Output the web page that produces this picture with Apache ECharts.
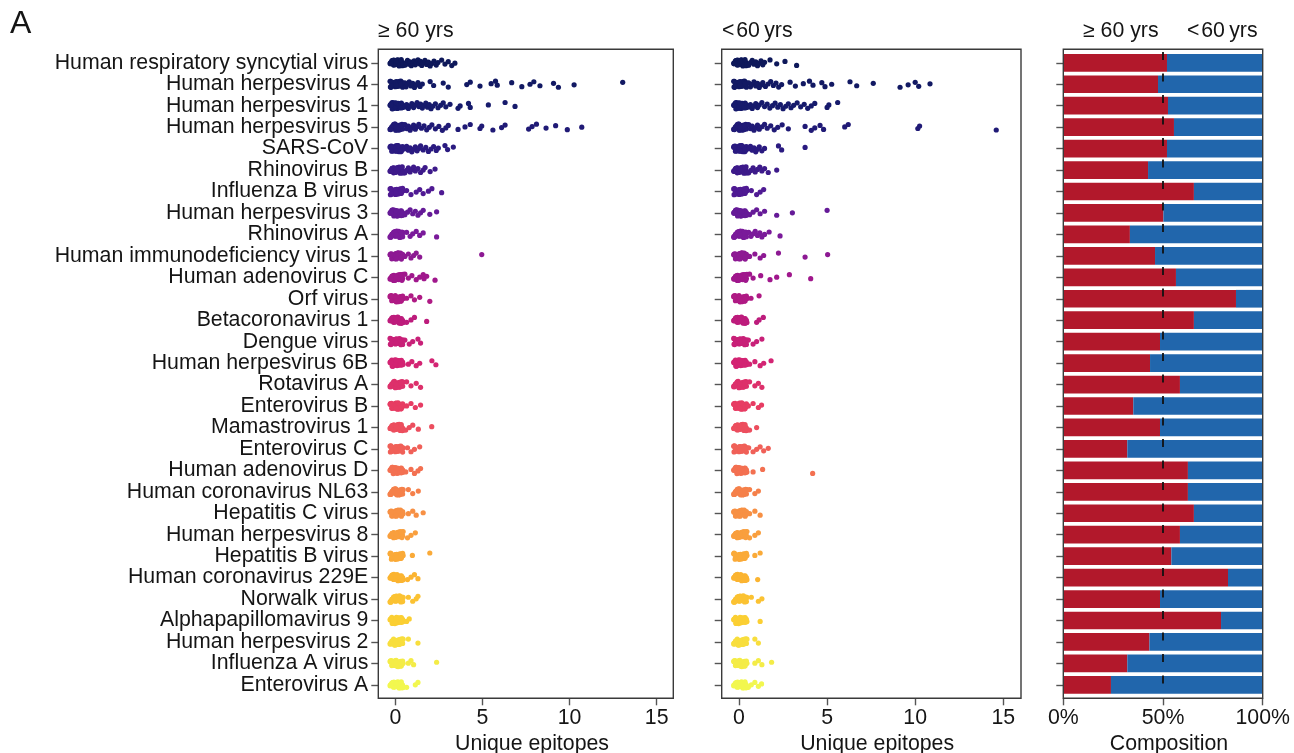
<!DOCTYPE html>
<html><head><meta charset="utf-8">
<script src="https://cdn.jsdelivr.net/npm/echarts@6/dist/echarts.min.js"></script>
<style>html,body{margin:0;padding:0;background:#fff}#c{width:1294px;height:753px}</style>
</head><body><div id="c"></div>
<script>
// ---------------- data ----------------
const viruses = ['Human respiratory syncytial virus','Human herpesvirus 4','Human herpesvirus 1','Human herpesvirus 5','SARS-CoV','Rhinovirus B','Influenza B virus','Human herpesvirus 3','Rhinovirus A','Human immunodeficiency virus 1','Human adenovirus C','Orf virus','Betacoronavirus 1','Dengue virus','Human herpesvirus 6B','Rotavirus A','Enterovirus B','Mamastrovirus 1','Enterovirus C','Human adenovirus D','Human coronavirus NL63','Hepatitis C virus','Human herpesvirus 8','Hepatitis B virus','Human coronavirus 229E','Norwalk virus','Alphapapillomavirus 9','Human herpesvirus 2','Influenza A virus','Enterovirus A'];

// dense cluster of (jittered) points near zero, shared by every row
const coreSpread = [-0.3,-0.2,-0.1,0,0.1,0.2,0.3,0.4,-0.25,-0.15,-0.05,0.05,0.15,0.25,0.35,0.45,-0.28,-0.12,0.02,0.12,0.22,0.32,-0.02,0.38,-0.22,-0.08,0.08,0.18,0.28,0.42,-0.18,0.0,0.16,0.34,-0.26,0.06];

// points beyond the dense cluster, >= 60 yrs
const olderExtra = [
 [0.55,0.62,0.7,0.78,0.85,0.92,1.0,1.08,1.15,1.22,1.3,1.38,1.45,1.52,1.6,1.7,1.8,1.9,2.0,2.1,2.22,2.35,2.45,2.66,2.85,3.04,3.24,3.42],
 [0.55,0.62,0.7,0.8,0.9,1.0,1.1,1.2,1.3,1.42,1.55,2.0,2.2,2.75,3.04,4.1,4.3,4.86,5.5,5.75,5.85,6.68,7.26,7.73,7.95,8.3,9.08,9.36,10.26,13.05],
 [0.55,0.65,0.75,0.85,0.95,1.05,1.15,1.25,1.35,1.45,1.55,1.65,1.75,1.85,1.95,2.05,2.15,2.3,2.45,2.6,2.75,2.9,3.14,3.6,3.72,4.2,4.3,5.34,6.3,6.87],
 [0.55,0.65,0.75,0.85,0.95,1.05,1.15,1.25,1.35,1.5,1.65,1.8,1.95,2.1,2.3,2.5,2.7,2.9,3.04,3.6,4.0,4.3,4.86,4.96,5.6,6.1,6.3,7.65,7.85,8.1,8.65,9.2,9.87,10.7],
 [0.55,0.65,0.75,0.85,0.95,1.05,1.15,1.25,1.35,1.45,1.6,1.75,1.9,2.05,2.2,2.35,2.47,2.85,3.0,3.33],
 [0.55,0.65,0.75,0.85,0.95,1.05,1.15,1.3,1.45,1.6,1.71,2.0,2.28],
 [0.65,0.9,1.2,1.4,1.6,1.9,2.1,2.66],
 [0.55,0.7,0.85,1.0,1.15,1.3,1.45,1.6,1.98,2.37],
 [0.65,0.85,1.0,1.2,1.4,1.6,2.37],
 [0.55,0.75,0.9,1.05,1.2,1.4,4.96],
 [0.55,0.75,0.95,1.2,1.4,1.6,1.65,1.8,2.28],
 [0.65,0.9,1.1,1.4,1.98],
 [0.65,0.9,1.1,1.8],
 [0.55,0.8,1.0,1.3,1.45],
 [0.75,0.95,1.2,1.4,2.1,2.33],
 [0.65,0.9,1.2,1.45],
 [0.65,0.9,1.15,1.45],
 [0.6,0.8,1.0,1.32,2.09],
 [0.7,0.9,1.1,1.4],
 [0.6,0.9,1.1,1.3,1.45],
 [0.75,1.0,1.32],
 [0.75,1.0,1.2,1.6],
 [0.7,0.9,1.15],
 [0.98,1.98],
 [0.7,0.9,1.1,1.3],
 [0.75,1.0,1.2,1.3],
 [0.65,0.8],
 [0.75,1.3],
 [0.75,0.9,1.05,2.37],
 [0.65,1.15,1.3]
];

// points beyond the dense cluster, < 60 yrs
const youngerExtra = [
 [0.55,0.65,0.75,0.85,0.95,1.05,1.15,1.25,1.35,1.45,1.76,2.14,2.61,3.27],
 [0.55,0.65,0.75,0.85,0.95,1.05,1.15,1.25,1.35,1.5,1.65,1.8,1.95,2.1,2.25,2.42,2.9,3.2,3.65,4.0,4.2,4.7,4.88,5.26,6.3,6.68,7.62,9.14,9.6,10.0,10.2,10.84],
 [0.55,0.65,0.75,0.85,0.95,1.05,1.15,1.3,1.45,1.6,1.75,1.9,2.05,2.2,2.35,2.5,2.65,2.8,2.95,3.1,3.3,3.5,3.7,3.9,4.1,4.3,5.0,5.1,5.6],
 [0.55,0.65,0.75,0.85,0.95,1.05,1.15,1.3,1.45,1.6,1.8,2.0,2.2,2.45,2.8,3.75,4.1,4.3,4.6,4.8,6.0,6.2,10.15,10.25,14.6],
 [0.55,0.65,0.75,0.85,0.95,1.05,1.15,1.3,1.45,2.24,2.42,3.75],
 [0.55,0.68,0.8,0.92,1.05,1.18,1.3,1.45,1.66,2.14],
 [0.7,1.0,1.2,1.4],
 [0.6,0.8,1.0,1.2,1.45,2.14,3.03,5.0],
 [0.55,0.68,0.8,0.92,1.05,1.18,1.3,1.45,1.71,2.33],
 [0.6,0.9,1.2,1.4,2.24,3.75,5.03],
 [0.6,0.8,1.23,1.76,2.14,2.86,4.07],
 [0.68,1.14],
 [1.0,1.14,1.38],
 [0.53,0.8,1.0,1.3],
 [0.6,0.9,1.2,1.4,1.82],
 [0.6,0.9,1.1,1.3],
 [0.53,0.8,1.1,1.28],
 [0.6,1.0],
 [0.55,0.8,1.0,1.2,1.4,1.66],
 [0.8,1.34,4.18],
 [0.6,0.9,1.1],
 [0.6,0.9,1.2],
 [0.6,0.9,1.1],
 [0.9,1.2],
 [1.06],
 [0.7,1.1,1.3],
 [1.2],
 [0.9,1.1],
 [0.9,1.1,1.3,1.85],
 [0.53,0.7,0.9,1.1,1.28]
];

// share (%) of the >= 60 yrs group per virus
const olderShare = [52.0,47.5,52.5,55.5,52.0,42.5,65.5,50.2,33.4,46.0,56.5,86.6,65.5,48.5,43.5,58.5,35.1,48.5,32.1,62.5,62.5,65.5,58.5,54.2,82.6,48.5,79.1,43.2,32.1,23.9];

const epitopeTicks = [0, 5, 10, 15];
const shareTicks = [0, 50, 100];
const titleOld = '\u2265 60 yrs';
const titleYoung = '<\u200a60\u2009yrs';

// ---------------- styling / layout ----------------
const FONT = '"Liberation Sans", Arial, Helvetica, sans-serif';
const FS = 21.3;
const TXT = '#151515';
const FRAME = '#3a3a3a';
const TICK = '#555';
const ROW0 = 62.8, BAND = 21.45, N = viruses.length;
const dataTop = ROW0 - BAND / 2, dataH = BAND * N;
const frameTop = 49.3, frameH = 649;
const xOff = (frameTop + frameH) - (dataTop + dataH);

const colorStops = [[0,'#0e185a'],[2,'#161a6c'],[4,'#2a1a80'],[6,'#4f1a93'],[8,'#7a1a9a'],[10,'#a0178c'],[12,'#bd1c7c'],[14,'#d32473'],[16,'#e73c63'],[18,'#f06058'],[20,'#f5804a'],[22,'#f99f3e'],[24,'#fbb431'],[26,'#fbcf33'],[28,'#f4ec47'],[29,'#f2f74f']];
function hex2rgb(h){return [1,3,5].map(i=>parseInt(h.substr(i,2),16));}
function rowColor(r){
  for (let i=0;i<colorStops.length-1;i++){
    const [a,ca]=colorStops[i],[b,cb]=colorStops[i+1];
    if (r>=a && r<=b){
      const t=(r-a)/(b-a), A=hex2rgb(ca), B=hex2rgb(cb);
      return 'rgb('+A.map((v,j)=>Math.round(v+(B[j]-v)*t)).join(',')+')';
    }
  }
  return colorStops[colorStops.length-1][1];
}
function yJit(k, r){ const u=((k+1)*0.6180339887 + r*0.4142136)%1; return (u-0.5)*0.3; }

function stripData(extra){
  const out=[];
  for (let r=0;r<N;r++){
    const vals=coreSpread.concat(extra[r]);
    const col=rowColor(r);
    vals.forEach((v,k)=>out.push({value:[v, r+yJit(k,r)], itemStyle:{color:col, opacity:1}}));
  }
  return out;
}

const panels = [
  {frameLeft:378.3, frameW:295, dataLeft:395.3, dataW:261.4},
  {frameLeft:721.7, frameW:299.3, dataLeft:739, dataW:264.3},
  {frameLeft:1063.3, frameW:199.4, dataLeft:1063.3, dataW:199.4}
];

const grid=[], xAxis=[], yAxis=[];
panels.forEach((p,i)=>{
  grid.push({left:p.frameLeft, top:frameTop, width:p.frameW, height:frameH, show:true, borderColor:FRAME, borderWidth:1.4, backgroundColor:'rgba(0,0,0,0)', containLabel:false, outerBoundsMode:'none', z:5});
  grid.push({left:p.dataLeft, top:dataTop, width:p.dataW, height:dataH, containLabel:false, outerBoundsMode:'none'});
  xAxis.push({gridIndex:2*i, type:'value', show:false, min:0, max:1});
  yAxis.push({gridIndex:2*i, type:'value', show:false, min:0, max:1});
  const isBar = i===2;
  xAxis.push({
    gridIndex:2*i+1, type:'value', position:'bottom', offset:xOff,
    min: isBar?shareTicks[0]:epitopeTicks[0],
    max: isBar?shareTicks[shareTicks.length-1]:epitopeTicks[epitopeTicks.length-1],
    interval: isBar?shareTicks[1]-shareTicks[0]:epitopeTicks[1]-epitopeTicks[0],
    axisLine:{show:false, onZero:false}, splitLine:{show:false},
    axisTick:{show:true, length:7, lineStyle:{color:TICK, width:1.4}},
    axisLabel:{fontSize:FS, fontFamily:FONT, color:TXT, margin:9, formatter: isBar?'{value}%':'{value}', showMinLabel:true, showMaxLabel:true},
    name: isBar?'Composition':'Unique epitopes', nameLocation:'middle', nameGap:29,
    nameTextStyle:{fontSize:FS, fontFamily:FONT, color:TXT, padding:[0,0,0,12]}
  });
  yAxis.push({
    gridIndex:2*i+1, type:'category', data:viruses, inverse:true, position:'left',
    offset: p.dataLeft - p.frameLeft,
    axisLine:{show:false, onZero:false}, splitLine:{show:false},
    axisTick:{show:true, alignWithLabel:true, length:7, lineStyle:{color:TICK, width:1.4}},
    axisLabel:{show:i===0, interval:0, fontSize:FS, fontFamily:FONT, color:TXT, margin:10}
  });
  if (!isBar) yAxis.push({gridIndex:2*i+1, type:'value', show:false, position:'right', min:-0.5, max:N-0.5, inverse:true, axisLine:{onZero:false}});
});
// axis indices: x: 0 frameL,1 dataL,2 frameM,3 dataM,4 frameR,5 dataR
// y: 0 frameL,1 catL,2 valL,3 frameM,4 catM,5 valM,6 frameR,7 catR

const series = [
  {type:'scatter', xAxisIndex:1, yAxisIndex:2, data:stripData(olderExtra), symbol:'circle', symbolSize:5.2, clip:false, silent:true, z:3, itemStyle:{opacity:1}},
  {type:'scatter', xAxisIndex:3, yAxisIndex:5, data:stripData(youngerExtra), symbol:'circle', symbolSize:5.2, clip:false, silent:true, z:3, itemStyle:{opacity:1}},
  {type:'bar', name:'\u2265 60 yrs', xAxisIndex:5, yAxisIndex:7, stack:'c', barWidth:17.7, data:olderShare, itemStyle:{color:'#b2182b'}, silent:true},
  {type:'bar', name:'< 60 yrs', xAxisIndex:5, yAxisIndex:7, stack:'c', barWidth:17.7, data:olderShare.map(v=>+(100-v).toFixed(1)), itemStyle:{color:'#2166ac'}, silent:true,
   markLine:{silent:true, symbol:'none', label:{show:false}, animation:false,
     lineStyle:{color:'#111', type:[8,13.5], width:1.8}, data:[{xAxis:50}]}}
];

const txt = (t,x,y,size)=>({type:'text', x:x, y:y, style:{text:t, fontSize:size, fontFamily:FONT, fill:TXT, verticalAlign:'middle', align:'left'}});
const graphic = [
  txt('A', 10, 24, 32),
  txt(titleOld, 378, 31, FS),
  txt(titleYoung, 722, 31, FS),
  txt(titleOld, 1083, 31, FS),
  txt(titleYoung, 1187, 31, FS)
];

const chart = echarts.init(document.getElementById('c'), null, {renderer:'canvas'});
chart.setOption({animation:false, backgroundColor:'#fff', grid, xAxis, yAxis, series, graphic, tooltip:{show:false}});
</script></body></html>
